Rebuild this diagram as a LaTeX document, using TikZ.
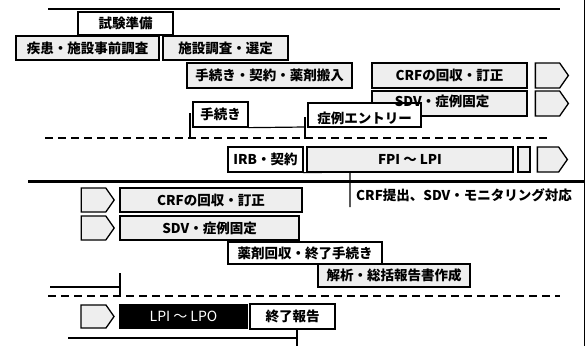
\documentclass[tikz,border=0pt]{standalone}
\usepackage{fontspec}
\newfontfamily\jp{Noto Sans CJK JP}
\usetikzlibrary{shapes.symbols}
\begin{document}
\begin{tikzpicture}[x=1pt,y=-1pt,
  box/.style={draw, line width=1.3pt, inner sep=0pt, fill=white,
    font=\jp\bfseries\fontsize{13.5}{14}\selectfont},
  gbox/.style={box, fill=gray!13},
  lbl/.style={inner sep=0pt, font=\jp\bfseries\fontsize{13.5}{14}\selectfont},
  arr/.style={draw, line width=1.3pt, fill=gray!13, shape=signal, signal to=east,
    signal pointer angle=110, inner sep=0pt},
  dsh/.style={line width=2.5pt, dash pattern=on 8pt off 5pt},
  thin/.style={line width=1.2pt}]
\fill[white] (0,0) rectangle (588,346);
\useasboundingbox (0,0) rectangle (588,346);
\draw[line width=1pt] (584,0) -- (584,346);
% top line
\draw[line width=2pt] (48,9) -- (560,9);
% upper section
\node[box, minimum width=95pt, minimum height=23pt] (prep) at (125.5,23.5) {試験準備};
\node[gbox, minimum width=143pt, minimum height=24pt] (disease) at (87.5,48) {疾患・施設事前調査};
\node[gbox, minimum width=125pt, minimum height=24pt] (site) at (225.5,48) {施設調査・選定};
\node[gbox, minimum width=165pt, minimum height=25pt] (proc) at (269.5,75.5) {手続き・契約・薬剤搬入};
\node[gbox, minimum width=155pt, minimum height=25pt] (crfa) at (449.5,75.5) {CRFの回収・訂正};
\node[arr, minimum width=33pt, minimum height=25pt] (pa) at (547.5,75.5) {};
\node[gbox, minimum width=155pt, minimum height=25pt] (sdva) at (449.5,103.5) {};
\node[arr, minimum width=33pt, minimum height=25pt] (pb) at (547.5,103.5) {};
\node[box, minimum width=55pt, minimum height=25pt] (tetsu) at (220.5,114.5) {手続き};
\node[box, minimum width=113pt, minimum height=24pt, text depth=-3pt] (entry) at (364.5,115) {};
\node[lbl] (entrytxt) at (364.5,118) {症例エントリー};
\node[lbl] (sdvatxt) at (442,101) {SDV・症例固定};
\draw[line width=2.5pt] (190,113) -- (190,139);
\draw[thin] (tetsu.south east) -- (305,127);
\draw[line width=2.5pt] (305,117) -- (305,139);
\draw[dsh] (45,138) -- (550,138);
% IRB row
\node[box, minimum width=75pt, minimum height=25pt] (irb) at (265.5,159.5) {IRB・契約};
\node[gbox, minimum width=206pt, minimum height=25pt] (fpi) at (410,159.5) {FPI ～ LPI};
\node[gbox, minimum width=12pt, minimum height=25pt] (small) at (524,159.5) {};
\node[arr, minimum width=30pt, minimum height=25pt] (pc) at (548,159.5) {};
\draw[line width=3pt] (28,181) -- (584,181);
\draw[thin] (irb.south east) -- (350,172) -- (350,207);
\node[lbl, anchor=west] (crfsub) at (356,195) {CRF提出、SDV・モニタリング対応};
% lower section
\node[arr, minimum width=33pt, minimum height=24pt] (pd) at (93.5,200) {};
\node[gbox, minimum width=182pt, minimum height=24pt] (crfb) at (211,200) {CRFの回収・訂正};
\node[arr, minimum width=33pt, minimum height=24pt] (pe) at (93.5,228) {};
\node[gbox, minimum width=179pt, minimum height=24pt] (sdvb) at (209.5,228) {SDV・症例固定};
\node[box, minimum width=154pt, minimum height=22pt] (yaku) at (305,253) {薬剤回収・終了手続き};
\node[gbox, minimum width=152pt, minimum height=23pt] (kaiseki) at (394,275.5) {解析・総括報告書作成};
\draw[line width=1.5pt] (50,287) -- (120,287);
\draw[line width=2pt] (120,273) -- (120,296);
\draw[dsh] (48,296) -- (560,296);
\node[arr, minimum width=33pt, minimum height=23pt] (pf) at (93.5,316.5) {};
\node[box, fill=black, text=white, minimum width=127pt, minimum height=23pt,
  font=\jp\fontsize{14}{14}\selectfont] (lpi) at (183.5,316.5) {LPI ～ LPO};
\node[box, minimum width=85pt, minimum height=25pt] (owari) at (292.5,316.5) {終了報告};
\draw[line width=2pt] (68,338) -- (297,338);
\draw[line width=2pt] (297,329) -- (297,346);
\end{tikzpicture}
\end{document}
